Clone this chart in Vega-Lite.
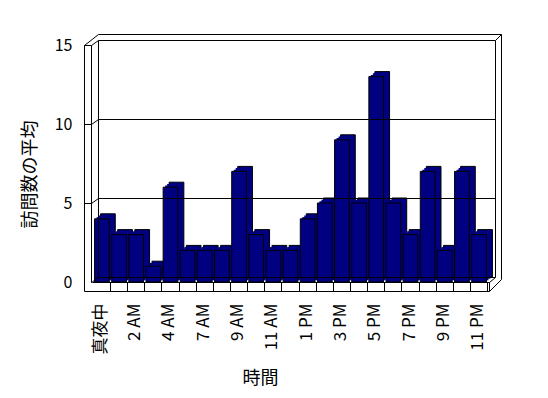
{
  "$schema": "https://vega.github.io/schema/vega-lite/v6.json",
  "width": 404,
  "height": 237,
  "autosize": {"type": "none"},
  "padding": {"left": 85, "top": 45, "right": 59, "bottom": 116},
  "background": "white",
  "config": {"view": {"stroke": null}, "font": "Noto Sans CJK JP"},
  "datasets": {
    "visits": [
      {"hour": "真夜中", "avg": 4},
      {"hour": "1 AM", "avg": 3},
      {"hour": "2 AM", "avg": 3},
      {"hour": "3 AM", "avg": 1},
      {"hour": "4 AM", "avg": 6},
      {"hour": "5 AM", "avg": 2},
      {"hour": "7 AM", "avg": 2},
      {"hour": "8 AM", "avg": 2},
      {"hour": "9 AM", "avg": 7},
      {"hour": "10 AM", "avg": 3},
      {"hour": "11 AM", "avg": 2},
      {"hour": "12 PM", "avg": 2},
      {"hour": "1 PM", "avg": 4},
      {"hour": "2 PM", "avg": 5},
      {"hour": "3 PM", "avg": 9},
      {"hour": "4 PM", "avg": 5},
      {"hour": "5 PM", "avg": 13},
      {"hour": "6 PM", "avg": 5},
      {"hour": "7 PM", "avg": 3},
      {"hour": "8 PM", "avg": 7},
      {"hour": "9 PM", "avg": 2},
      {"hour": "10 PM", "avg": 7},
      {"hour": "11 PM", "avg": 3}
    ],
    "one": [{"k": 1}],
    "grid": [{"g": 5}, {"g": 10}]
  },
  "layer": [
    {
      "data": {"name": "visits"},
      "mark": {"type": "bar", "fill": "#000080", "stroke": "black", "strokeWidth": 1, "xOffset": 6, "yOffset": -5, "y2Offset": -5},
      "encoding": {
        "x": {
          "field": "hour", "type": "nominal", "sort": null, "title": "時間",
          "scale": {
            "domain": ["真夜中","1 AM","2 AM","3 AM","4 AM","5 AM","7 AM","8 AM","9 AM","10 AM","11 AM","12 PM","1 PM","2 PM","3 PM","4 PM","5 PM","6 PM","7 PM","8 PM","9 PM","10 PM","11 PM"],
            "range": [7, 404], "paddingInner": 0.142, "paddingOuter": 0.15
          },
          "axis": {
            "title": "時間", "titleFontSize": 18, "titleFontWeight": "normal", "titleColor": "black",
            "titleX": 175, "titleY": 96, "titleAlign": "center", "titleBaseline": "middle", "titleAngle": 0,
            "labelAngle": 270, "labelAlign": "right", "labelBaseline": "middle", "labelFontSize": 17,
            "labelColor": "black", "labelPadding": 12, "labelOffset": -1, "labelOverlap": false,
            "labelExpr": "indexof(['真夜中','2 AM','4 AM','7 AM','9 AM','11 AM','1 PM','3 PM','5 PM','7 PM','9 PM','11 PM'], datum.value) >= 0 ? datum.label : ''",
            "ticks": true, "tickSize": 9, "tickColor": "black", "tickWidth": 1,
            "bandPosition": 1.083, "tickExtra": false,
            "domain": true, "domainColor": "black", "domainWidth": 1, "grid": false
          }
        },
        "y": {
          "field": "avg", "type": "quantitative", "title": "訪問数の平均",
          "scale": {"domain": [0, 15], "nice": false, "zero": true},
          "axis": {
            "title": "訪問数の平均", "values": [0, 5, 10, 15],
            "domain": false, "ticks": false, "grid": false,
            "labelPadding": 13, "labelFontSize": 16, "labelColor": "black",
            "titleFontSize": 18, "titleFontWeight": "normal", "titleColor": "black",
            "titleAngle": 270, "titleX": -55, "titleY": 129, "titleAlign": "center", "titleBaseline": "middle"
          }
        }
      }
    },
    {
      "data": {"name": "visits"},
      "mark": {"type": "bar", "fill": "#000080", "strokeWidth": 0, "xOffset": 4, "yOffset": -3.3, "y2Offset": -3.3},
      "encoding": {"x": {"field": "hour", "type": "nominal", "sort": null, "title": "時間"}, "y": {"field": "avg", "type": "quantitative", "title": "訪問数の平均"}}
    },
    {
      "data": {"name": "visits"},
      "mark": {"type": "bar", "fill": "#000080", "strokeWidth": 0, "xOffset": 2, "yOffset": -1.7, "y2Offset": -1.7},
      "encoding": {"x": {"field": "hour", "type": "nominal", "sort": null, "title": "時間"}, "y": {"field": "avg", "type": "quantitative", "title": "訪問数の平均"}}
    },
    {
      "data": {"name": "visits"},
      "mark": {"type": "bar", "fill": "#000080", "stroke": "black", "strokeWidth": 1},
      "encoding": {"x": {"field": "hour", "type": "nominal", "sort": null, "title": "時間"}, "y": {"field": "avg", "type": "quantitative", "title": "訪問数の平均"}}
    },
    {
      "data": {"name": "one"},
      "mark": {"type": "rule", "color": "black", "strokeWidth": 1, "xOffset": -17.426, "yOffset": 9.5, "y2Offset": 0.5},
      "encoding": {"x": {"datum": "真夜中", "type": "nominal"}, "y": {"datum": 0, "type": "quantitative"}, "y2": {"datum": 15}}
    },
    {
      "data": {"name": "one"},
      "mark": {"type": "rule", "color": "black", "strokeWidth": 1, "xOffset": -10.426, "yOffset": 0.5, "y2Offset": 0.5},
      "encoding": {"x": {"datum": "真夜中", "type": "nominal"}, "y": {"datum": 0, "type": "quantitative"}, "y2": {"datum": 15}}
    },
    {
      "data": {"name": "one"},
      "mark": {"type": "rule", "color": "black", "strokeWidth": 1, "xOffset": -17.426, "x2Offset": -10.426, "yOffset": 0.5},
      "encoding": {"x": {"datum": "真夜中", "type": "nominal"}, "x2": {"datum": "真夜中"}, "y": {"datum": 15, "type": "quantitative"}}
    },
    {
      "data": {"name": "one"},
      "mark": {"type": "rule", "color": "black", "strokeWidth": 1, "xOffset": -17.426, "x2Offset": -3.426, "yOffset": 0.5, "y2Offset": -10.5},
      "encoding": {"x": {"datum": "真夜中", "type": "nominal"}, "x2": {"datum": "真夜中"}, "y": {"datum": 15, "type": "quantitative"}, "y2": {"datum": 15}}
    },
    {
      "data": {"name": "one"},
      "mark": {"type": "rule", "color": "black", "strokeWidth": 1, "xOffset": -10.426, "x2Offset": -3.426, "yOffset": 0.5, "y2Offset": -4.5},
      "encoding": {"x": {"datum": "真夜中", "type": "nominal"}, "x2": {"datum": "真夜中"}, "y": {"datum": 15, "type": "quantitative"}, "y2": {"datum": 15}}
    },
    {
      "data": {"name": "one"},
      "mark": {"type": "rule", "color": "black", "strokeWidth": 1, "xOffset": -3.426, "x2Offset": 16.426, "yOffset": -4.5},
      "encoding": {"x": {"datum": "真夜中", "type": "nominal"}, "x2": {"datum": "11 PM"}, "y": {"datum": 15, "type": "quantitative"}}
    },
    {
      "data": {"name": "one"},
      "mark": {"type": "rule", "color": "black", "strokeWidth": 1, "xOffset": -3.426, "x2Offset": 22.426, "yOffset": -10.5},
      "encoding": {"x": {"datum": "真夜中", "type": "nominal"}, "x2": {"datum": "11 PM"}, "y": {"datum": 15, "type": "quantitative"}}
    },
    {
      "data": {"name": "one"},
      "mark": {"type": "rule", "color": "black", "strokeWidth": 1, "xOffset": -3.426, "yOffset": -4.5, "y2Offset": -4.5},
      "encoding": {"x": {"datum": "真夜中", "type": "nominal"}, "y": {"datum": 0, "type": "quantitative"}, "y2": {"datum": 15}}
    },
    {
      "data": {"name": "one"},
      "mark": {"type": "rule", "color": "black", "strokeWidth": 1, "xOffset": 16.426, "yOffset": -4.5, "y2Offset": -4.5},
      "encoding": {"x": {"datum": "11 PM", "type": "nominal"}, "y": {"datum": 0, "type": "quantitative"}, "y2": {"datum": 15}}
    },
    {
      "data": {"name": "one"},
      "mark": {"type": "rule", "color": "black", "strokeWidth": 1, "xOffset": 22.426, "yOffset": -2.5, "y2Offset": -10.5},
      "encoding": {"x": {"datum": "11 PM", "type": "nominal"}, "y": {"datum": 0, "type": "quantitative"}, "y2": {"datum": 15}}
    },
    {
      "data": {"name": "one"},
      "mark": {"type": "rule", "color": "black", "strokeWidth": 1, "xOffset": 16.426, "x2Offset": 22.426, "yOffset": -4.5, "y2Offset": -10.5},
      "encoding": {"x": {"datum": "11 PM", "type": "nominal"}, "x2": {"datum": "11 PM"}, "y": {"datum": 15, "type": "quantitative"}, "y2": {"datum": 15}}
    },
    {
      "data": {"name": "grid"},
      "mark": {"type": "rule", "color": "black", "strokeWidth": 1, "xOffset": -3.426, "x2Offset": 16.426, "yOffset": -4.5},
      "encoding": {"x": {"datum": "真夜中", "type": "nominal"}, "x2": {"datum": "11 PM"}, "y": {"field": "g", "type": "quantitative", "title": "訪問数の平均"}}
    },
    {
      "data": {"name": "grid"},
      "mark": {"type": "rule", "color": "black", "strokeWidth": 1, "xOffset": -17.426, "x2Offset": -10.426, "yOffset": 0.5},
      "encoding": {"x": {"datum": "真夜中", "type": "nominal"}, "x2": {"datum": "真夜中"}, "y": {"field": "g", "type": "quantitative", "title": "訪問数の平均"}}
    },
    {
      "data": {"name": "grid"},
      "mark": {"type": "rule", "color": "black", "strokeWidth": 1, "xOffset": -10.426, "x2Offset": -3.426, "yOffset": 0.5, "y2Offset": -4.5},
      "encoding": {"x": {"datum": "真夜中", "type": "nominal"}, "x2": {"datum": "真夜中"}, "y": {"field": "g", "type": "quantitative", "title": "訪問数の平均"}, "y2": {"field": "g"}}
    },
    {
      "data": {"name": "one"},
      "mark": {"type": "rule", "color": "black", "strokeWidth": 1, "xOffset": -10.426, "x2Offset": -3.426, "yOffset": 0.5, "y2Offset": -4.5},
      "encoding": {"x": {"datum": "真夜中", "type": "nominal"}, "x2": {"datum": "真夜中"}, "y": {"datum": 0, "type": "quantitative"}, "y2": {"datum": 0}}
    },
    {
      "data": {"name": "one"},
      "mark": {"type": "rule", "color": "black", "strokeWidth": 1, "xOffset": -17.426, "x2Offset": 10.426, "yOffset": 9.5},
      "encoding": {"x": {"datum": "真夜中", "type": "nominal"}, "x2": {"datum": "11 PM"}, "y": {"datum": 0, "type": "quantitative"}}
    },
    {
      "data": {"name": "one"},
      "mark": {"type": "rule", "color": "black", "strokeWidth": 1, "xOffset": 10.426, "yOffset": 0.5, "y2Offset": 9.5},
      "encoding": {"x": {"datum": "11 PM", "type": "nominal"}, "y": {"datum": 0, "type": "quantitative"}, "y2": {"datum": 0}}
    },
    {
      "data": {"name": "one"},
      "mark": {"type": "rule", "color": "black", "strokeWidth": 1, "xOffset": 10.426, "x2Offset": 16.426, "yOffset": 0.5, "y2Offset": -4.5},
      "encoding": {"x": {"datum": "11 PM", "type": "nominal"}, "x2": {"datum": "11 PM"}, "y": {"datum": 0, "type": "quantitative"}, "y2": {"datum": 0}}
    },
    {
      "data": {"name": "one"},
      "mark": {"type": "rule", "color": "black", "strokeWidth": 1, "xOffset": 10.426, "x2Offset": 22.426, "yOffset": 9.5, "y2Offset": -2.5},
      "encoding": {"x": {"datum": "11 PM", "type": "nominal"}, "x2": {"datum": "11 PM"}, "y": {"datum": 0, "type": "quantitative"}, "y2": {"datum": 0}}
    },
    {
      "data": {"name": "one"},
      "mark": {"type": "rule", "color": "black", "strokeWidth": 1, "xOffset": -3.426, "x2Offset": 16.426, "yOffset": -4.5},
      "encoding": {"x": {"datum": "真夜中", "type": "nominal"}, "x2": {"datum": "11 PM"}, "y": {"datum": 0, "type": "quantitative"}}
    }
  ]
}
